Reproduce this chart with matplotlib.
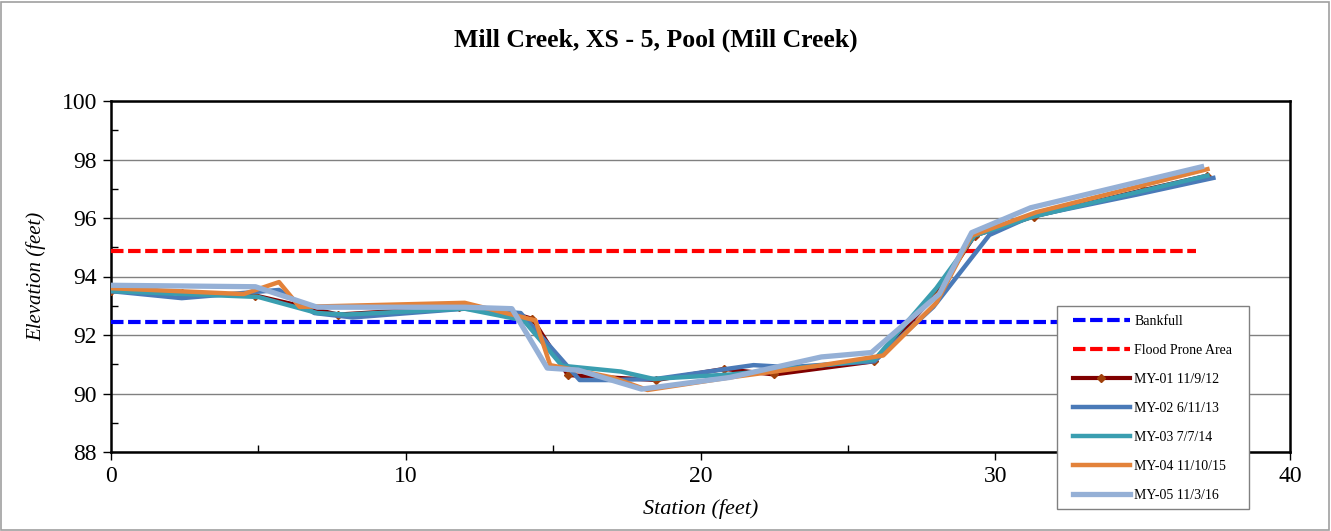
import matplotlib
matplotlib.use("Agg")
import matplotlib.pyplot as plt
from matplotlib.patches import Rectangle
from matplotlib.ticker import MultipleLocator

plt.rcParams['font.family'] = ['Liberation Serif', 'DejaVu Serif']

title = "Mill Creek, XS - 5, Pool (Mill Creek)"

bankfull_x = [0, 36.8]
bankfull_y = [92.44, 92.44]
flood_x = [0, 36.8]
flood_y = [94.86, 94.86]

my01_x = [0, 2.4, 4.9, 7.7, 11.8, 13.8, 14.3, 15.5, 18.5, 20.8, 22.5, 25.9, 28.0, 29.3, 31.3, 35.0, 37.2]
my01_y = [93.5, 93.45, 93.35, 92.7, 92.95, 92.7, 92.55, 90.63, 90.46, 90.84, 90.65, 91.1, 93.4, 95.4, 96.05, 96.95, 97.45]

my02_x = [0, 2.4, 5.7, 6.9, 8.2, 12.0, 13.9, 15.9, 16.9, 18.5, 21.8, 23.0, 25.9, 27.9, 29.8, 31.2, 34.8, 37.4]
my02_y = [93.5, 93.26, 93.54, 92.75, 92.6, 92.9, 92.75, 90.46, 90.46, 90.5, 90.97, 90.9, 91.1, 92.96, 95.42, 96.05, 96.8, 97.37]

my03_x = [0, 5.0, 7.0, 8.0, 12.0, 14.0, 15.3, 17.3, 18.4, 21.0, 24.0, 25.9, 28.0, 29.3, 31.3, 37.2]
my03_y = [93.5, 93.3, 92.75, 92.7, 92.9, 92.5, 90.95, 90.75, 90.5, 90.65, 90.95, 91.15, 93.6, 95.4, 96.05, 97.45]

my04_x = [0, 4.5, 5.7, 6.4, 12.0, 14.4, 14.9, 17.0, 18.2, 21.0, 24.0, 26.2, 28.0, 29.2, 31.4, 37.2]
my04_y = [93.6, 93.4, 93.81, 92.96, 93.1, 92.5, 90.97, 90.55, 90.12, 90.55, 90.95, 91.3, 93.1, 95.4, 96.2, 97.67]

my05_x = [0, 4.9, 7.0, 12.0, 13.6, 14.8, 15.85, 18.0, 21.0, 24.1, 25.8, 28.1, 29.2, 31.2, 37.0]
my05_y = [93.7, 93.65, 92.95, 92.95, 92.9, 90.87, 90.8, 90.15, 90.55, 91.25, 91.4, 93.4, 95.5, 96.35, 97.75]

W, H = 1331, 531
fig = plt.figure(figsize=(W / 100, H / 100), dpi=100)
ax = fig.add_axes([111 / W, 1 - 452 / H, (1290 - 111) / W, (452 - 101) / H])

ax.plot(bankfull_x, bankfull_y, color="#0000ff", lw=3, dashes=(3, 1.1), label="Bankfull", zorder=3)
ax.plot(flood_x, flood_y, color="#ff0000", lw=3, dashes=(3, 1.1), label="Flood Prone Area", zorder=3)
ax.plot(my01_x, my01_y, color="#800000", lw=3, marker="D", ms=4,
        mfc="#a0400a", mec="#a0400a", label="MY-01 11/9/12", zorder=4)
ax.plot(my02_x, my02_y, color="#4a7ab8", lw=3.2, label="MY-02 6/11/13", zorder=5)
ax.plot(my03_x, my03_y, color="#3a9eb0", lw=3.2, label="MY-03 7/7/14", zorder=6)
ax.plot(my04_x, my04_y, color="#e3823a", lw=3.2, label="MY-04 11/10/15", zorder=7)
ax.plot(my05_x, my05_y, color="#95b0d6", lw=3.8, label="MY-05 11/3/16", zorder=8)

ax.set_xlim(0, 40)
ax.set_ylim(88, 100)
ax.xaxis.set_major_locator(MultipleLocator(10))
ax.xaxis.set_minor_locator(MultipleLocator(5))
ax.yaxis.set_major_locator(MultipleLocator(2))
ax.yaxis.set_minor_locator(MultipleLocator(1))
ax.tick_params(which="major", direction="out", length=6, width=1, labelsize=17, pad=4)
ax.tick_params(which="minor", direction="in", length=5, width=1)
ax.grid(axis="y", which="major", color="#808080", lw=1)
ax.set_axisbelow(True)
for s in ax.spines.values():
    s.set_linewidth(1.8)
    s.set_color("black")

ax.set_xlabel("Station (feet)", fontsize=16, style="italic", labelpad=9)
ax.set_ylabel("Elevation (feet)", fontsize=15, style="italic", labelpad=11)
fig.text(655.5 / W, 1 - 40 / H, title, ha="center", va="center", fontsize=18.5, fontweight="bold")

# legend box drawn separately so it can have wider side padding than top/bottom
box = Rectangle((1057 / W, 1 - 509 / H), 192 / W, 203 / H, transform=fig.transFigure,
                facecolor="white", edgecolor="#808080", lw=1, clip_on=False, zorder=19)
ax.add_patch(box)
leg = ax.legend(loc="upper left", bbox_to_anchor=(1073 / W, 1 - 315 / H),
                bbox_transform=fig.transFigure, borderaxespad=0, borderpad=0,
                fontsize=10, frameon=False,
                handlelength=4.1, labelspacing=1.15, handletextpad=0.3)
leg.set_zorder(20)

fig.patches.append(Rectangle((1 / W, 1 / H), 1328 / W, 528 / H, transform=fig.transFigure,
                             fill=False, edgecolor="#a0a0a0", lw=1.2))

fig.savefig("out.png", dpi=100)
